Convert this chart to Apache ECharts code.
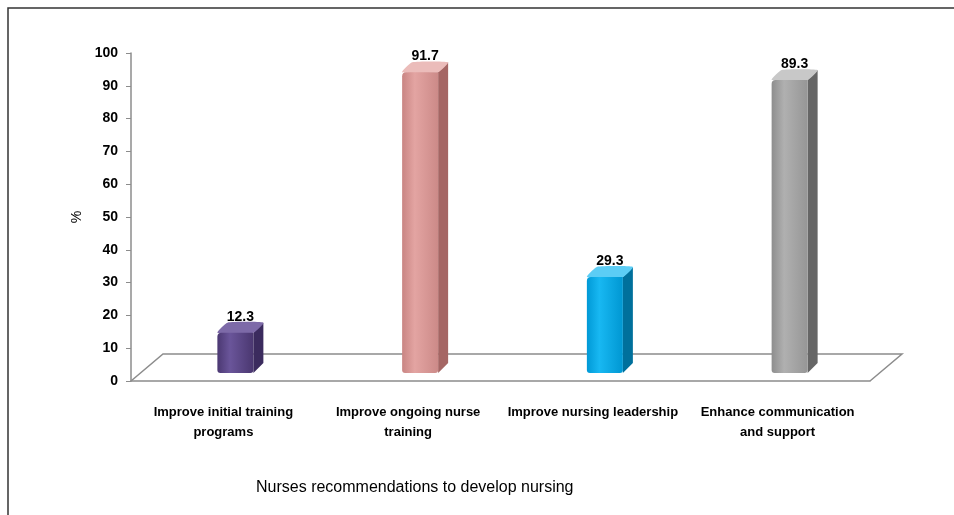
<!DOCTYPE html>
<html>
<head>
<meta charset="utf-8">
<script src="https://cdn.jsdelivr.net/npm/echarts@6/dist/echarts.min.js"></script>
<style>
  html, body { margin: 0; padding: 0; background: #fff; }
  #chart { width: 954px; height: 515px; }
</style>
</head>
<body>
<div id="chart"></div>
<script>
// data
const categories = [
  "Improve initial training\nprograms",
  "Improve ongoing nurse\ntraining",
  "Improve nursing leadership",
  "Enhance communication\nand support",
];
const values = [12.3, 91.7, 29.3, 89.3];
const yMin = 0, yMax = 100, yStep = 10;
const xTitle = "Nurses recommendations to develop nursing";
const yTitle = "%";

// front / side / top colours per bar
const palette = [
  { front: ["#4b3872", "#6a559a", "#4a3770"], side: "#3b2b5e", top: "#7d6aa8" },
  { front: ["#c98583", "#e3a4a2", "#cc8a88"], side: "#a56664", top: "#ebbcba" },
  { front: ["#0099d6", "#18b8f2", "#0097d2"], side: "#00709c", top: "#5ccdf5" },
  { front: ["#8e8e8e", "#b0b0b0", "#969696"], side: "#666666", top: "#c8c8c8" },
];

const FONT = "'Liberation Sans', sans-serif";
const chart = echarts.init(document.getElementById("chart"));

function renderItem(params, api) {
  const i = params.dataIndex;
  const base = api.coord([i, 0]);
  const top = api.coord([i, api.value(1)]);
  const band = api.size([1, 0])[0];
  const c = palette[i];
  const w = 36, d = 10, shift = -8;
  const x0 = base[0] - 6, x1 = x0 + w;
  const yTop = top[1] + shift, yBot = base[1] + shift;
  const children = [];

  // the 3D floor, drawn once behind the first bar
  if (i === 0) {
    const left = base[0] - band / 2;
    const right = left + band * categories.length;
    const fx = 32, fy = -27;
    children.push({
      type: "polyline",
      shape: { points: [[left, base[1]], [left + fx, base[1] + fy], [right + fx, base[1] + fy], [right, base[1]]] },
      style: { stroke: "#8c8c8c", lineWidth: 1.5, fill: null },
      silent: true,
    });
  }

  children.push({
    type: "polygon",
    shape: { points: [[x1, yTop], [x1 + d, yTop - d], [x1 + d, yBot - d], [x1, yBot]] },
    style: { fill: c.side },
  });
  children.push({
    type: "polygon",
    shape: { points: [[x0, yTop], [x0 + d, yTop - d], [x1 + d, yTop - d], [x1, yTop]], smooth: 0.15 },
    style: { fill: c.top },
  });
  children.push({
    type: "rect",
    shape: { x: x0, y: yTop, width: w, height: yBot - yTop, r: [4, 0, 3, 3] },
    style: {
      fill: new echarts.graphic.LinearGradient(0, 0, 1, 0, [
        { offset: 0, color: c.front[0] },
        { offset: 0.35, color: c.front[1] },
        { offset: 1, color: c.front[2] },
      ]),
    },
  });
  children.push({
    type: "text",
    style: {
      text: String(api.value(1)),
      x: x0 + (w + d) / 2,
      y: yTop - d + 1,
      align: "center",
      verticalAlign: "bottom",
      fill: "#000",
      font: "bold 14px " + FONT,
    },
  });
  return { type: "group", children };
}

chart.setOption({
  animation: false,
  backgroundColor: "#fff",
  grid: { left: 131, right: 84, top: 53, bottom: 134 },
  title: {
    text: xTitle,
    left: 251,
    top: 475,
    textStyle: { fontFamily: FONT, fontSize: 16, fontWeight: "normal", color: "#000" },
  },
  xAxis: {
    type: "category",
    data: categories,
    axisLine: { lineStyle: { color: "#8c8c8c", width: 1.5 } },
    axisTick: { length: 5, lineStyle: { color: "#8c8c8c" } },
    axisLabel: {
      interval: 0,
      margin: 21,
      lineHeight: 20,
      color: "#000",
      fontFamily: FONT,
      fontWeight: "bold",
      fontSize: 13,
    },
  },
  yAxis: {
    type: "value",
    min: yMin,
    max: yMax,
    interval: yStep,
    name: yTitle,
    nameLocation: "middle",
    nameRotate: 90,
    nameGap: 45,
    nameTextStyle: { color: "#000", fontFamily: FONT, fontSize: 14 },
    axisLine: { show: true, lineStyle: { color: "#8c8c8c", width: 1.5 } },
    axisTick: { show: true, length: 5, lineStyle: { color: "#8c8c8c" } },
    splitLine: { show: false },
    axisLabel: { margin: 13, color: "#000", fontFamily: FONT, fontWeight: "bold", fontSize: 14 },
  },
  graphic: [
    {
      type: "polyline",
      shape: { points: [[8, 515], [8, 8], [954, 8]] },
      style: { stroke: "#333", lineWidth: 1.5, fill: null },
      silent: true,
    },
  ],
  series: [
    {
      type: "custom",
      renderItem,
      data: values.map((v, i) => [i, v]),
      encode: { x: 0, y: 1 },
    },
  ],
});
</script>
</body>
</html>
